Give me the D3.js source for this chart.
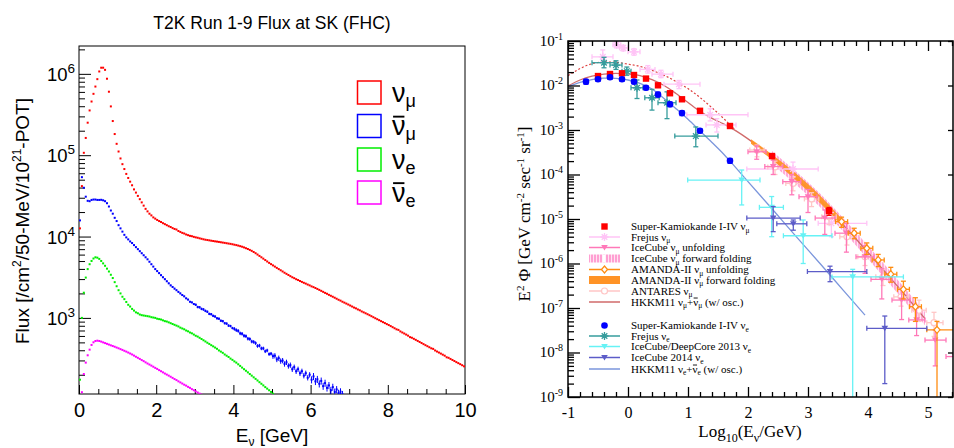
<!DOCTYPE html>
<html><head><meta charset="utf-8">
<script src="https://cdn.jsdelivr.net/npm/d3@7"></script>
<style>html,body{margin:0;padding:0;background:#fff;}svg{display:block;} text{white-space:pre;}</style>
</head><body>
<svg id="chart" width="954" height="448"></svg>
<script>
// ================= LEFT PANEL DATA (T2K flux at SK, 50 MeV bins from 0 GeV) =================
const fluxBinWidth = 0.05;
const numuFlux = [
1.26e4,4.17e4,1.07e5,1.63e5,2.51e5,3.55e5,4.57e5,5.68e5,6.98e5,8.61e5,
1.07e6,1.19e6,1.19e6,1.12e6,8.71e5,6.03e5,3.98e5,2.63e5,1.82e5,1.38e5,
1.11e5,9.12e4,7.76e4,6.76e4,5.89e4,5.25e4,4.73e4,4.27e4,3.80e4,3.47e4,
3.16e4,2.88e4,2.63e4,2.40e4,2.19e4,2.04e4,1.91e4,1.82e4,1.72e4,1.66e4,
1.60e4,1.55e4,1.51e4,1.46e4,1.42e4,1.38e4,1.34e4,1.31e4,1.27e4,1.24e4,
1.22e4,1.17e4,1.14e4,1.11e4,1.09e4,1.06e4,1.04e4,1.02e4,1.01e4,9910,
9770,9660,9510,9380,9250,9140,9060,8980,8890,8810,
8730,8670,8590,8510,8430,8360,8280,8200,8130,8040,
7940,7850,7740,7620,7500,7350,7190,7030,6850,6670,
6460,6240,6010,5780,5560,5350,5140,4940,4750,4580,
4420,4270,4120,3980,3850,3720,3590,3480,3370,3260,
3160,3080,2990,2920,2840,2770,2700,2640,2570,2510,
2440,2390,2330,2270,2210,2150,2090,2030,1980,1920,
1870,1820,1770,1720,1670,1630,1580,1540,1500,1460,
1420,1380,1340,1310,1270,1240,1200,1170,1140,1110,
1080,1050,1020,991,964,938,912,887,863,839,
817,793,769,746,724,712,682,662,643,624,
605,580,570,553,537,521,506,491,476,462,
449,436,423,416,398,386,375,364,353,343,
328,323,313,304,295,286,278,270,262,254];
const numubarFlux = [
1.58e4,5.37e4,3.98e4,3.09e4,2.75e4,2.72e4,2.82e4,2.85e4,2.85e4,2.82e4,
2.82e4,2.83e4,2.79e4,2.72e4,2.57e4,2.34e4,2.09e4,1.91e4,1.70e4,1.55e4,
1.38e4,1.26e4,1.15e4,1.05e4,9770,9230,8710,8320,7850,7410,
7000,6610,6240,5890,5560,5250,4900,4570,4270,3980,
3760,3550,3350,3160,2990,2820,2660,2510,2400,2290,
2190,2090,2000,1910,1840,1740,1680,1580,1550,1480,
1450,1360,1350,1290,1270,1220,1190,1120,1110,1060,
1040,989,977,923,912,861,851,804,794,750,
733,708,692,646,638,603,596,556,550,513,
507,490,452,457,422,422,389,398,359,363,
339,343,309,320,295,299,272,285,257,263,
234,248,221,234,209,221,195,209,184,200,
174,191,166,176,155,168,145,158,138,148,
129,141,123,132,119,124,115];
// relative statistical error of the anti-numu points: [first bin, relative error]
const numubarErrRanges = [[0,0.01],[40,0.02],[60,0.035],[80,0.05],[100,0.075],[120,0.1]];
const nueFlux = [
174,1000,2040,3130,3980,4570,5010,5370,5560,5500,
5310,5010,4680,4370,4030,3720,3390,3090,2750,2450,
2190,2000,1820,1700,1570,1450,1380,1290,1230,1170,
1140,1100,1080,1070,1060,1050,1040,1020,1010,1000,
977,966,955,933,912,902,881,861,841,822,
804,785,759,741,724,700,684,661,646,624,
603,589,569,550,531,513,495,479,462,447,
432,417,398,385,372,355,343,331,316,305,
292,282,269,257,245,234,224,214,204,195,
186,178,170,162,155,148,141,135,129,123,
117,112];
const nuebarFlux = [
79,122,204,282,347,407,465,501,520,525,
520,511,500,490,480,470,460,451,442,432,
423,413,404,394,385,375,365,355,344,333,
323,313,303,294,284,275,267,259,251,243,
236,228,221,214,207,201,195,189,183,177,
172,166,161,156,151,147,142,138,133,129,
125,121,117,114];
const leftXTicks = [0,2,4,6,8,10];
const leftYTicks = [1e3,1e4,1e5,1e6];

// ================= RIGHT PANEL DATA (atmospheric flux, E^2 Phi) =================
const skMuLogE = [-0.5,-0.3,-0.1,0.1,0.3,0.5,0.7,0.9,1.2,1.7,2.4,3.35];
const skMuFlux = [0.0163,0.0181,0.0188,0.0172,0.0143,0.0101,0.0067,0.0049,0.0027,0.00123,0.00026,0.0000151];
const skMuRelErr = [0.08,0.06,0.06,0.06,0.06,0.07,0.08,0.08,0.07,0.08,0.12,0.2];
const skELogE = [-0.7,-0.5,-0.3,-0.1,0.1,0.3,0.5,0.7,0.9,1.2,1.7];
const skEFlux = [0.0122,0.0138,0.0153,0.0138,0.0122,0.0089,0.0063,0.0038,0.0024,0.00096,0.000204];
const skERelErr = [0.12,0.1,0.1,0.1,0.1,0.1,0.12,0.12,0.12,0.1,0.12];

const frejusMuLogE = [-0.42,-0.19,-0.08,0.1,0.33,0.55,0.85,1.37,1.48,2.75,3.39];
const frejusMuFlux = [0.044,0.082,0.07,0.057,0.023,0.018,0.0107,0.0022,0.0013,0.000133,0.000008];
const frejusMuLogELo = [-0.6,-0.25,-0.14,0.0,0.2,0.4,0.6,0.98,1.3,1.98,3.17];
const frejusMuLogEHi = [-0.25,-0.12,0.0,0.2,0.45,0.75,1.2,2.0,1.8,3.17,3.98];
const frejusMuFluxLo = [0.034,0.07,0.06,0.048,0.019,0.015,0.0085,0.0016,0.0009,0.00009,0.000004];
const frejusMuFluxHi = [0.063,0.096,0.08,0.067,0.028,0.022,0.013,0.003,0.0018,0.00019,0.000014];

const frejusELogE = [-0.4,-0.2,-0.02,0.15,0.4,0.65,1.13];
const frejusEFlux = [0.0325,0.0288,0.021,0.0089,0.0053,0.0041,0.00073];
const frejusELogELo = [-0.6,-0.3,-0.1,0.05,0.28,0.5,0.78];
const frejusELogEHi = [-0.22,-0.1,0.05,0.25,0.52,0.8,1.5];
const frejusEFluxLo = [0.025,0.023,0.017,0.0051,0.0028,0.0018,0.00042];
const frejusEFluxHi = [0.043,0.036,0.026,0.0133,0.0082,0.0072,0.00117];

const icMuLogE = [2.145,2.42,2.73,3.0,3.28,3.64,3.95,4.23,4.56,4.81,5.12,5.45];
const icMuFlux = [3.24e-4,1.51e-4,6.9e-5,3.16e-5,1.05e-5,4.8e-6,1.41e-6,4.4e-7,1.51e-7,5.4e-8,1.9e-8,8.1e-9];
const icMuLogELo = [2.0,2.28,2.58,2.85,3.12,3.45,3.8,4.05,4.4,4.68,4.95,5.3];
const icMuLogEHi = [2.3,2.58,2.88,3.15,3.45,3.8,4.1,4.4,4.7,4.95,5.3,5.6];
const icMuFluxLo = [2.2e-4,1.0e-4,3.5e-5,1.4e-5,4.5e-6,1.8e-6,6e-7,1.6e-7,5.5e-8,2.4e-8,5e-9,2e-9];
const icMuFluxHi = [4.4e-4,2.1e-4,1.0e-4,4.6e-5,1.6e-5,8e-6,2.5e-6,7.6e-7,2.6e-7,1.0e-7,3.2e-8,2e-8];

const icFFLogE = [2.4,2.8,3.2,3.6,4.0,4.4,4.8,4.95];
const icFFLo = [1.70e-4,5.89e-5,1.86e-5,5.01e-6,1.26e-6,3.02e-7,7.08e-8,4.07e-8];
const icFFHi = [3.39e-4,1.17e-4,3.72e-5,1.0e-5,2.51e-6,6.03e-7,1.41e-7,8.13e-8];

const amLogE = [3.56,3.77,3.98,4.17,4.38,4.59,4.79,5.15];
const amFlux = [8.7e-6,4.8e-6,2.2e-6,1.2e-6,5.75e-7,2.63e-7,1.07e-7,3.24e-8];
const amLogELo = [3.46,3.67,3.88,4.07,4.28,4.49,4.69,4.98];
const amLogEHi = [3.66,3.87,4.08,4.27,4.48,4.69,4.89,5.6];
const amFluxLo = [6.5e-6,3.6e-6,1.6e-6,8.5e-7,3.8e-7,1.6e-7,5e-8,1e-10];
const amFluxHi = [1.1e-5,6.2e-6,2.9e-6,1.6e-6,8.2e-7,4e-7,1.7e-7,5e-8];

const amFFLogE = [2.05,2.4,2.8,3.2,3.6];
const amFFLo = [4.9e-4,2.14e-4,7.41e-5,2.29e-5,6.31e-6];
const amFFHi = [6.17e-4,2.82e-4,1.05e-4,3.39e-5,8.91e-6];

const antLogE = [2.15,2.45,2.75,3.06,3.35,3.65,3.95,4.25,4.55,4.85,5.1];
const antFlux = [3.55e-4,1.48e-4,6.31e-5,2.82e-5,1.12e-5,3.98e-6,1.41e-6,5.01e-7,1.78e-7,8.91e-8,4.68e-8];
const antLogELo = [2.03,2.33,2.63,2.94,3.23,3.53,3.83,4.13,4.43,4.73,4.98];
const antLogEHi = [2.27,2.57,2.87,3.18,3.47,3.77,4.07,4.37,4.67,4.97,5.25];
const antFluxLo = [2.5e-4,1.0e-4,4.3e-5,1.9e-5,7.5e-6,2.6e-6,9e-7,3.2e-7,1.1e-7,5e-8,2.3e-8];
const antFluxHi = [4.6e-4,2.0e-4,8.7e-5,3.9e-5,1.6e-5,5.8e-6,2.1e-6,7.5e-7,2.8e-7,1.5e-7,8e-8];

const dcLogE = [1.895,2.395,2.92,3.745];
const dcFlux = [7.5e-5,1.83e-5,4.2e-6,5e-7];
const dcLogELo = [0.995,2.19,2.59,3.4];
const dcLogEHi = [2.2,2.59,3.4,4.59];
const dcFluxLo = [2.07e-5,4e-6,1e-6,1e-10];
const dcFluxHi = [1.26e-4,3.2e-5,9.5e-6,7.4e-7];

const ic14LogE = [2.42,2.755,3.367,4.28];
const ic14Flux = [1.05e-5,7.8e-6,6.6e-7,3.5e-8];
const ic14LogELo = [1.98,2.48,2.99,3.98];
const ic14LogEHi = [2.87,2.98,3.98,4.98];
const ic14FluxLo = [5.2e-6,5.6e-6,3.9e-7,2e-9];
const ic14FluxHi = [1.9e-5,9.5e-6,8.7e-7,6.6e-8];

const hkkmMuLogE = [-1.0,-0.8,-0.6,-0.4,-0.2,0.0,0.2,0.4,0.6,0.8,1.0,1.2,1.4,1.6,1.8,2.0,2.2,2.4,2.6,2.8,3.0,3.2,3.4,3.6,3.8,4.0,4.2,4.4,4.6,4.8,4.95];
const hkkmMuFlux = [9.77e-3,1.33e-2,1.62e-2,1.80e-2,1.88e-2,1.82e-2,1.66e-2,1.35e-2,1.0e-2,6.61e-3,4.17e-3,2.63e-3,1.82e-3,1.35e-3,9.55e-4,6.31e-4,3.98e-4,2.40e-4,1.41e-4,8.32e-5,4.79e-5,2.63e-5,1.38e-5,7.08e-6,3.55e-6,1.78e-6,8.71e-7,4.27e-7,2.09e-7,1.0e-7,5.75e-8];
const hkkmMuNoOscLogE = [-1.0,-0.8,-0.6,-0.4,-0.2,0.0,0.2,0.4,0.6,0.8,1.0,1.2,1.4,1.6,1.8];
const hkkmMuNoOscFlux = [1.66e-2,2.40e-2,3.09e-2,3.39e-2,3.31e-2,3.02e-2,2.69e-2,2.19e-2,1.70e-2,1.23e-2,8.51e-3,5.37e-3,3.16e-3,1.78e-3,9.6e-4];
const hkkmELogE = [-1.0,-0.8,-0.6,-0.4,-0.2,0.0,0.2,0.4,0.6,0.8,1.0,1.2,1.4,1.6,1.8,2.0,2.4,2.8,3.2,3.6,3.95];
const hkkmEFlux = [9.33e-3,1.17e-2,1.36e-2,1.46e-2,1.45e-2,1.33e-2,1.12e-2,8.32e-3,5.13e-3,3.02e-3,1.74e-3,9.55e-4,5.25e-4,2.82e-4,1.41e-4,6.92e-5,1.70e-5,4.07e-6,1.0e-6,2.40e-7,6.92e-8];
const rightXTicks = [-1,0,1,2,3,4,5];
const rightYTicks = [1e-9,1e-8,1e-7,1e-6,1e-5,1e-4,1e-3,1e-2,1e-1];

// ================= DRAWING =================
const svg = d3.select('#chart');
const defs = svg.append('defs');
const SANS = '"Liberation Sans", Arial, Helvetica, sans-serif';
const SERIF = '"Liberation Serif", "Times New Roman", Times, serif';

// parts: 'text' | [text, mode(0 normal, 1 sup, -1 sub), overline?]
function richText(parent, x, y, parts, o) {
  const t = parent.append('text').attr('x', x).attr('y', y)
    .attr('font-family', o.family).attr('font-size', o.size)
    .attr('text-anchor', o.anchor || 'start').attr('fill', o.fill || '#000');
  if (o.rotate) t.attr('transform', `rotate(-90 ${x} ${y})`);
  let cur = 0;
  const bars = [];
  parts.forEach(p => {
    const [s, mode, bar] = Array.isArray(p) ? p : [p, 0, false];
    const target = mode === 1 ? -o.supShift : mode === -1 ? o.subShift : 0;
    const ts = t.append('tspan').attr('dy', target - cur).text(s);
    if (mode) ts.attr('font-size', o.small);
    if (bar) bars.push({ts, base: y + target, fs: mode ? o.small : o.size});
    cur = target;
  });
  bars.forEach(b => {
    const ext = b.ts.node().getExtentOfChar(0);
    const yy = b.base - b.fs * 0.68;
    parent.append('line').attr('x1', ext.x + b.fs * 0.04).attr('x2', ext.x + ext.width - b.fs * 0.04)
      .attr('y1', yy).attr('y2', yy).attr('stroke', o.fill || '#000').attr('stroke-width', Math.max(0.9, b.fs * 0.07));
  });
  return t;
}
function logMinor(lo, hi) {
  const out = [];
  for (let e = Math.floor(Math.log10(lo)); e <= Math.ceil(Math.log10(hi)); e++)
    for (let m = 2; m <= 9; m++) { const v = m * Math.pow(10, e); if (v >= lo && v <= hi) out.push(v); }
  return out;
}

// ---------- LEFT ----------
const L = {x0: 79, x1: 465, y0: 46, y1: 394};
const xL = d3.scaleLinear().domain([0, 10]).range([L.x0, L.x1]);
const yL = d3.scaleLog().domain([116, 2.2e6]).range([L.y1, L.y0]);
defs.append('clipPath').attr('id', 'clipL').append('rect')
  .attr('x', L.x0).attr('y', L.y0).attr('width', L.x1 - L.x0).attr('height', L.y1 - L.y0);

const gL = svg.append('g');
richText(gL, 272, 29, ['T2K Run 1-9 Flux at SK (FHC)'], {family: SANS, size: 17.5, anchor: 'middle'});

gL.append('rect').attr('x', L.x0).attr('y', L.y0).attr('width', L.x1 - L.x0).attr('height', L.y1 - L.y0)
  .attr('fill', 'none').attr('stroke', '#000').attr('stroke-width', 1);

const xMajL = gL.append('g').attr('transform', `translate(0,${L.y1})`)
  .call(d3.axisBottom(xL).tickValues(leftXTicks).tickSize(-9).tickSizeOuter(0).tickPadding(9).tickFormat(d => String(d)));
xMajL.select('.domain').remove();
xMajL.selectAll('text').attr('font-family', SANS).attr('font-size', 20).attr('fill', '#000');
const xMinL = gL.append('g').attr('transform', `translate(0,${L.y1})`)
  .call(d3.axisBottom(xL).tickValues(d3.range(0, 21).map(i => i * 0.5).filter(v => v % 2 !== 0)).tickSize(-5).tickFormat(''));
xMinL.select('.domain').remove();

const yMajL = gL.append('g').attr('transform', `translate(${L.x0},0)`)
  .call(d3.axisLeft(yL).tickValues(leftYTicks).tickSize(-12).tickFormat(''));
yMajL.select('.domain').remove();
const yMinL = gL.append('g').attr('transform', `translate(${L.x0},0)`)
  .call(d3.axisLeft(yL).tickValues(logMinor(116, 2.2e6)).tickSize(-6).tickFormat(''));
yMinL.select('.domain').remove();
gL.selectAll('.tick line').attr('stroke', '#000');
leftYTicks.forEach(v => {
  richText(gL, 75, yL(v) + 7, ['10', [String(Math.round(Math.log10(v))), 1]],
    {family: SANS, size: 18.5, small: 13.5, supShift: 8, anchor: 'end'});
});
richText(gL, 29, 221, ['Flux [/cm', ['2', 1], '/50-MeV/10', ['21', 1], '-POT]'],
  {family: SANS, size: 19, small: 12, supShift: 8, anchor: 'middle', rotate: true});
richText(gL, 272, 442, ['E', ['ν', -1], ' [GeV]'], {family: SANS, size: 19, small: 12, subShift: 4, anchor: 'middle'});

const leftSeries = [
  {vals: numuFlux, color: '#ff0000'},
  {vals: numubarFlux, color: '#0000ff', errRanges: numubarErrRanges},
  {vals: nueFlux, color: '#00ee00'},
  {vals: nuebarFlux, color: '#ff00ff'}
];
const plotL = gL.append('g').attr('clip-path', 'url(#clipL)');
leftSeries.forEach(s => {
  const pts = s.vals.map((v, i) => ({e: fluxBinWidth * (i + 0.5), v, i}));
  if (s.errRanges) {
    const relErr = i => { let r = 0; s.errRanges.forEach(([b, e]) => { if (i >= b) r = e; }); return r; };
    plotL.append('g').selectAll('line').data(pts).join('line')
      .attr('x1', d => xL(d.e)).attr('x2', d => xL(d.e))
      .attr('y1', d => yL(d.v * (1 + relErr(d.i)))).attr('y2', d => yL(d.v * (1 - relErr(d.i))))
      .attr('stroke', s.color).attr('stroke-width', 1);
  }
  plotL.append('g').selectAll('rect').data(pts).join('rect')
    .attr('x', d => xL(d.e) - 1).attr('y', d => yL(d.v) - 1).attr('width', 2).attr('height', 2)
    .attr('fill', s.color);
});

const legL = [
  {color: '#ff0000', parts: [['ν', 0, false], ['μ', -1]]},
  {color: '#0000ff', parts: [['ν', 0, true], ['μ', -1]]},
  {color: '#00ee00', parts: [['ν', 0, false], ['e', -1]]},
  {color: '#ff00ff', parts: [['ν', 0, true], ['e', -1]]}
];
const legLY = [92.5, 126, 159.5, 192.5];
legL.forEach((d, k) => {
  gL.append('rect').attr('x', 357.5).attr('y', legLY[k] - 11.5).attr('width', 23.5).attr('height', 23)
    .attr('fill', 'none').attr('stroke', d.color).attr('stroke-width', 1.5);
  richText(gL, 392, legLY[k] + 9, d.parts, {family: SANS, size: 27, small: 18, subShift: 5});
});

// ---------- RIGHT ----------
const R = {x0: 568, x1: 953, y0: 41, y1: 397};
const xR = d3.scaleLinear().domain([-1, -1 + (R.x1 - R.x0) / 60]).range([R.x0, R.x1]);
const yR = d3.scaleLog().domain([1e-9, 1e-1]).range([R.y1, R.y0]);
defs.append('clipPath').attr('id', 'clipR').append('rect')
  .attr('x', R.x0).attr('y', R.y0).attr('width', R.x1 - R.x0).attr('height', R.y1 - R.y0);
const hatch = defs.append('pattern').attr('id', 'icHatch').attr('patternUnits', 'userSpaceOnUse')
  .attr('width', 3).attr('height', 3);
hatch.append('rect').attr('width', 3).attr('height', 3).attr('fill', '#ff9fd2');
hatch.append('rect').attr('x', 2).attr('width', 1).attr('height', 3).attr('fill', '#ffe4f2');

const gR = svg.append('g');
const plotR = gR.append('g').attr('clip-path', 'url(#clipR)');

function zip(...arrs) { return arrs[0].map((_, i) => arrs.map(a => a ? a[i] : undefined)); }

function band(logE, lo, hi, fill, opacity) {
  const area = d3.area().x(d => xR(d[0])).y0(d => yR(d[1])).y1(d => yR(d[2])).curve(d3.curveMonotoneX);
  plotR.append('path').attr('d', area(zip(logE, lo, hi))).attr('fill', fill).attr('opacity', opacity || 1);
}
band(icFFLogE, icFFLo, icFFHi, 'url(#icHatch)', 0.9);

const lineR = d3.line().x(d => xR(d[0])).y(d => yR(d[1])).curve(d3.curveMonotoneX);
plotR.append('path').attr('d', lineR(zip(hkkmMuNoOscLogE, hkkmMuNoOscFlux))).attr('fill', 'none')
  .attr('stroke', '#dd3d3d').attr('stroke-width', 1.2).attr('stroke-dasharray', '2,2');
plotR.append('path').attr('d', lineR(zip(hkkmMuLogE, hkkmMuFlux))).attr('fill', 'none')
  .attr('stroke', '#d06a6a').attr('stroke-width', 1.3);
plotR.append('path').attr('d', lineR(zip(hkkmELogE, hkkmEFlux))).attr('fill', 'none')
  .attr('stroke', '#7b96dc').attr('stroke-width', 1.3);
band(amFFLogE, amFFLo, amFFHi, '#ff9326', 0.95);

function marker(g, type, x, y, color) {
  if (type === 'square') g.append('rect').attr('x', x - 3.2).attr('y', y - 3.2).attr('width', 6.4).attr('height', 6.4).attr('fill', color);
  else if (type === 'circle') g.append('circle').attr('cx', x).attr('cy', y).attr('r', 3.3).attr('fill', color);
  else if (type === 'star') g.append('path').attr('d', `M${x-4},${y}H${x+4}M${x},${y-4}V${y+4}M${x-2.8},${y-2.8}L${x+2.8},${y+2.8}M${x-2.8},${y+2.8}L${x+2.8},${y-2.8}`)
    .attr('stroke', color).attr('stroke-width', 1.3).attr('fill', 'none');
  else if (type === 'tri') g.append('path').attr('d', `M${x-3.3},${y-2.6}L${x+3.3},${y-2.6}L${x},${y+3}Z`).attr('fill', color);
  else if (type === 'diamond') g.append('path').attr('d', `M${x},${y-3.5}L${x+3},${y}L${x},${y+3.5}L${x-3},${y}Z`)
    .attr('fill', '#fff').attr('stroke', color).attr('stroke-width', 1.2);
  else if (type === 'ocircle') g.append('circle').attr('cx', x).attr('cy', y).attr('r', 3).attr('fill', '#fff')
    .attr('stroke', color).attr('stroke-width', 1.2);
}
function errSet(logE, flux, xlo, xhi, flo, fhi, color, type, width) {
  const g = plotR.append('g');
  zip(logE, flux, xlo, xhi, flo, fhi).forEach(([e, f, a, b, lo, hi]) => {
    const x = xR(e), y = yR(f), cap = 2.5;
    const st = sel => sel.attr('stroke', color).attr('stroke-width', width || 1.3);
    if (a !== undefined) {
      st(g.append('line').attr('x1', xR(a)).attr('x2', xR(b)).attr('y1', y).attr('y2', y));
      st(g.append('line').attr('x1', xR(a)).attr('x2', xR(a)).attr('y1', y - cap).attr('y2', y + cap));
      st(g.append('line').attr('x1', xR(b)).attr('x2', xR(b)).attr('y1', y - cap).attr('y2', y + cap));
    }
    if (lo !== undefined) {
      st(g.append('line').attr('x1', x).attr('x2', x).attr('y1', yR(lo)).attr('y2', yR(hi)));
      st(g.append('line').attr('x1', x - cap).attr('x2', x + cap).attr('y1', yR(hi)).attr('y2', yR(hi)));
      if (lo > 1e-9) st(g.append('line').attr('x1', x - cap).attr('x2', x + cap).attr('y1', yR(lo)).attr('y2', yR(lo)));
    }
    marker(g, type, x, y, color);
  });
}
errSet(frejusMuLogE, frejusMuFlux, frejusMuLogELo, frejusMuLogEHi, frejusMuFluxLo, frejusMuFluxHi, '#ffc4f6', 'star');
errSet(antLogE, antFlux, antLogELo, antLogEHi, antFluxLo, antFluxHi, '#ffc6c6', 'ocircle');
errSet(icMuLogE, icMuFlux, icMuLogELo, icMuLogEHi, icMuFluxLo, icMuFluxHi, '#ff78b8', 'tri');
errSet(amLogE, amFlux, amLogELo, amLogEHi, amFluxLo, amFluxHi, '#ff8c10', 'diamond');
errSet(dcLogE, dcFlux, dcLogELo, dcLogEHi, dcFluxLo, dcFluxHi, '#66f2f5', 'tri');
errSet(ic14LogE, ic14Flux, ic14LogELo, ic14LogEHi, ic14FluxLo, ic14FluxHi, '#5c5cc8', 'tri');
errSet(frejusELogE, frejusEFlux, frejusELogELo, frejusELogEHi, frejusEFluxLo, frejusEFluxHi, '#369c9c', 'star');
errSet(skMuLogE, skMuFlux, undefined, undefined, skMuFlux.map((f, i) => f * (1 - skMuRelErr[i])), skMuFlux.map((f, i) => f * (1 + skMuRelErr[i])), '#ff0000', 'square');
errSet(skELogE, skEFlux, undefined, undefined, skEFlux.map((f, i) => f * (1 - skERelErr[i])), skEFlux.map((f, i) => f * (1 + skERelErr[i])), '#0000ff', 'circle');

gR.append('rect').attr('x', R.x0).attr('y', R.y0).attr('width', R.x1 - R.x0).attr('height', R.y1 - R.y0)
  .attr('fill', 'none').attr('stroke', '#000').attr('stroke-width', 1.5);
const minorX = d3.range(0, 33).map(i => -1 + i * 0.2).filter(v => Math.abs(v - Math.round(v)) > 0.01 && v < 5.41);
function axisR(gen, tr) {
  const g = gR.append('g').attr('transform', tr).call(gen);
  g.select('.domain').remove();
  g.selectAll('.tick line').attr('stroke', '#000').attr('stroke-width', 1.3);
  return g;
}
const xbR = axisR(d3.axisBottom(xR).tickValues(rightXTicks).tickSize(-10).tickPadding(10).tickFormat(d => String(d)), `translate(0,${R.y1})`);
xbR.selectAll('text').attr('font-family', SERIF).attr('font-size', 16).attr('fill', '#000');
axisR(d3.axisBottom(xR).tickValues(minorX).tickSize(-5).tickFormat(''), `translate(0,${R.y1})`);
axisR(d3.axisTop(xR).tickValues(rightXTicks).tickSize(-10).tickFormat(''), `translate(0,${R.y0})`);
axisR(d3.axisTop(xR).tickValues(minorX).tickSize(-5).tickFormat(''), `translate(0,${R.y0})`);
axisR(d3.axisLeft(yR).tickValues(rightYTicks).tickSize(-12).tickFormat(''), `translate(${R.x0},0)`);
axisR(d3.axisLeft(yR).tickValues(logMinor(1e-9, 1e-1)).tickSize(-6).tickFormat(''), `translate(${R.x0},0)`);
axisR(d3.axisRight(yR).tickValues(rightYTicks).tickSize(-5).tickFormat(''), `translate(${R.x1},0)`);
rightYTicks.forEach(v => {
  richText(gR, 563, yR(v) + 4.5, ['10', [String(Math.round(Math.log10(v))), 1]],
    {family: SERIF, size: 15, small: 10, supShift: 6, anchor: 'end'});
});
richText(gR, 530, 214, ['E', ['2', 1], ' Φ [GeV cm', ['-2', 1], ' sec', ['-1', 1], ' sr', ['-1', 1], ']'],
  {family: SERIF, size: 17, small: 11, supShift: 6, anchor: 'middle', rotate: true});
richText(gR, 750, 437, ['Log', ['10', -1], '(E', ['ν', -1], '/GeV)'],
  {family: SERIF, size: 17, small: 12, subShift: 5, anchor: 'middle'});

const legR = [
  {y: 226.5, sym: 'square', color: '#ff0000', line: false, parts: ['Super-Kamiokande I-IV ν', ['μ', -1]]},
  {y: 237, sym: 'star', color: '#ffc4f6', line: true, parts: ['Frejus ν', ['μ', -1]]},
  {y: 247.5, sym: 'tri', color: '#ff78b8', line: true, parts: ['IceCube ν', ['μ', -1], ' unfolding']},
  {y: 258.5, sym: 'hatch', color: '#ff9fd2', parts: ['IceCube ν', ['μ', -1], ' forward folding']},
  {y: 269.5, sym: 'diamond', color: '#ff8c10', line: true, parts: ['AMANDA-II ν', ['μ', -1], ' unfolding']},
  {y: 280, sym: 'box', color: '#ff9326', parts: ['AMANDA-II ν', ['μ', -1], ' forward folding']},
  {y: 291, sym: 'ocircle', color: '#ffc6c6', line: true, parts: ['ANTARES ν', ['μ', -1]]},
  {y: 302, sym: null, color: '#d06a6a', line: true, parts: ['HKKM11 ν', ['μ', -1], '+', ['ν', 0, true], ['μ', -1], ' (w/ osc.)']},
  {y: 325.5, sym: 'circle', color: '#0000ff', line: false, parts: ['Super-Kamiokande I-IV ν', ['e', -1]]},
  {y: 336, sym: 'star', color: '#369c9c', line: true, parts: ['Frejus ν', ['e', -1]]},
  {y: 346.5, sym: 'tri', color: '#66f2f5', line: true, parts: ['IceCube/DeepCore 2013 ν', ['e', -1]]},
  {y: 357.5, sym: 'tri', color: '#5c5cc8', line: true, parts: ['IceCube 2014 ν', ['e', -1]]},
  {y: 369, sym: null, color: '#7b96dc', line: true, parts: ['HKKM11 ν', ['e', -1], '+', ['ν', 0, true], ['e', -1], ' (w/ osc.)']}
];
const legG = gR.append('g');
legR.forEach(d => {
  if (d.line) legG.append('line').attr('x1', 589).attr('x2', 620).attr('y1', d.y).attr('y2', d.y)
    .attr('stroke', d.color).attr('stroke-width', 1.5);
  if (d.sym === 'hatch' || d.sym === 'box') {
    legG.append('rect').attr('x', 589).attr('y', d.y - 4).attr('width', 31).attr('height', 8)
      .attr('fill', d.sym === 'hatch' ? 'url(#icHatch)' : d.color);
    if (d.sym === 'hatch') legG.append('rect').attr('x', 602.5).attr('y', d.y - 4).attr('width', 3).attr('height', 8).attr('fill', '#fff');
  } else if (d.sym) marker(legG, d.sym, 604.5, d.y, d.color);
  richText(legG, 631, d.y + 3.5, d.parts, {family: SERIF, size: 11, small: 7.5, subShift: 2.5});
});
</script>
</body></html>
